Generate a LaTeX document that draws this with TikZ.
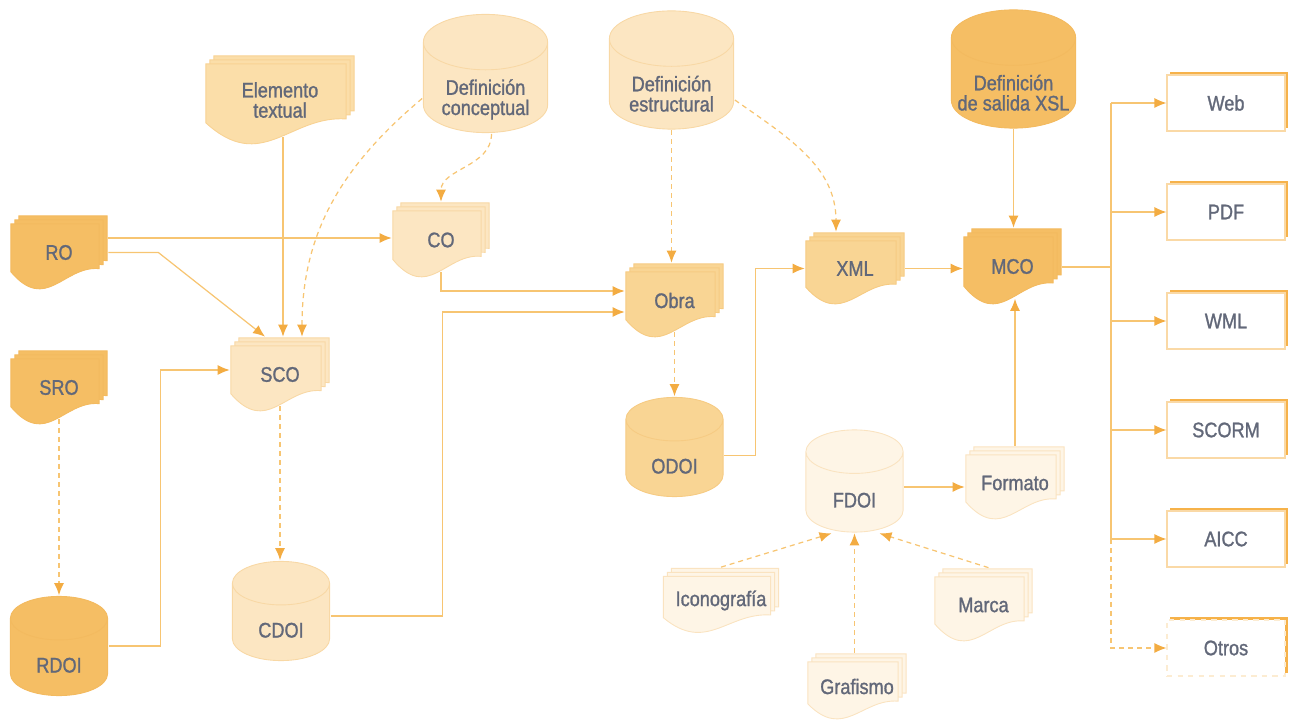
\documentclass[tikz,border=0pt]{standalone}
\usepackage{fontspec}
\setmainfont{Liberation Sans}[FakeStretch=0.86, FakeBold=1.2]
\usetikzlibrary{positioning,calc,arrows.meta,shadows}

\definecolor{ink}{HTML}{626879}
\definecolor{wire}{HTML}{F7C572}
\definecolor{tipc}{HTML}{F3AC42}
\definecolor{dark}{HTML}{F5BE64}
\definecolor{mid}{HTML}{F9D594}
\definecolor{soft}{HTML}{FBDEA9}
\definecolor{light}{HTML}{FCE6C2}
\definecolor{pale}{HTML}{FEF5E6}
\definecolor{rim}{HTML}{EDAE50}
\definecolor{boxline}{HTML}{FAD9A6}
\definecolor{boxedge}{HTML}{F6B24A}

\begin{document}
\begin{tikzpicture}[>={Latex[length=0.24cm,width=0.2cm,color=tipc]}, node distance=2.18cm,
  every node/.style={font=\fontsize{12}{11.5}\selectfont, text=ink, align=center},
  conn/.style={->, draw=wire, line width=0.7pt},
  dconn/.style={conn, dash pattern=on 1mm off 0.8mm},
  wire line/.style={draw=wire, line width=0.7pt},
  docs/.style={minimum width=1.96cm, minimum height=1.5cm, inner sep=0pt,
    path picture={
      \foreach \k in {2,1,0}
        \draw[fill=#1, draw=#1!75!rim, line width=0.5pt]
          let \p1=(path picture bounding box.south west), \p2=(path picture bounding box.north east),
              \n1={\x2-\x1-0.16cm-1pt}, \n2={0.98*(\y2-\y1-0.16cm-1pt)},
              \n3={\x1+0.5pt+\k*0.08cm}, \n4={\y1+0.5pt+\k*0.08cm+0.02*\n2}
          in (\n3,\n4+\n2) -- (\n3+\n1,\n4+\n2) -- (\n3+\n1,\n4+0.3*\n2)
             .. controls (\n3+0.6*\n1,\n4+0.35*\n2) and (\n3+0.4*\n1,\n4-0.4*\n2) .. (\n3,\n4+0.25*\n2)
             -- cycle;
    }},
  db/.style={minimum width=1.98cm, minimum height=2.02cm, inner sep=0pt, text height=1.06cm, text depth=0pt,
    path picture={
      \draw[fill=#1, draw=#1!75!rim, line width=0.5pt]
        let \p1=(path picture bounding box.south west), \p2=(path picture bounding box.north east),
            \n1={(\x2-\x1)/2-0.5pt}, \n2={0.22*(\x2-\x1)}
        in (\x1+0.5pt,\y2-\n2-0.5pt) -- (\x1+0.5pt,\y1+\n2+0.5pt)
           arc[start angle=180, end angle=360, x radius=\n1, y radius=\n2]
           -- (\x2-0.5pt,\y2-\n2-0.5pt)
           arc[start angle=0, end angle=180, x radius=\n1, y radius=\n2] -- cycle
           (\x1+0.5pt,\y2-\n2-0.5pt)
           arc[start angle=180, end angle=360, x radius=\n1, y radius=\n2];
    }},
  big db/.style={db=#1, minimum width=2.52cm, minimum height=2.4cm, text height=1.66cm},
  outbox/.style={draw=boxline, fill=white, line width=0.6pt, minimum width=2.36cm, minimum height=1.12cm,
    general shadow={fill=boxedge, shadow xshift=0.06cm, shadow yshift=0.06cm}}]

  \useasboundingbox (0,0) rectangle (25.8,-14.5);

  % objects
  \node[docs=dark] (ro) at (1.18,-5.05) {RO};
  \node[docs=dark] (sro) at (1.18,-7.75) {SRO};
  \node[docs=soft, minimum width=3.0cm, minimum height=1.8cm] (elem) at (5.6,-2.0) {Elemento\\textual};
  \node[docs=light, minimum height=1.52cm] (co) at (8.82,-4.8) {CO};
  \node[docs=light, minimum width=2.0cm] (sco) at (5.6,-7.49) {SCO};
  \node[docs=mid, minimum width=1.98cm] (obra) at (13.49,-6.01) {Obra};
  \node[docs=mid, minimum width=2.0cm, minimum height=1.46cm] (xml) at (17.1,-5.37) {XML};
  \node[docs=dark, minimum width=1.98cm, minimum height=1.54cm] (mco) at (20.25,-5.33) {MCO};
  \node[docs=pale, minimum width=2.0cm, minimum height=1.48cm] (formato) at (20.3,-9.66) {Formato};
  \node[docs=pale, minimum width=2.34cm, minimum height=1.32cm] (icono) at (14.42,-12.01) {Iconografía};
  \node[docs=pale, minimum width=1.98cm, minimum height=1.48cm] (marca) at (19.67,-12.1) {Marca};
  \node[docs=pale, minimum width=2.0cm, minimum height=1.34cm] (grafismo) at (17.14,-13.73) {Grafismo};

  % databases
  \node[big db=light] (defcon) at (9.71,-1.47) {Definición\\conceptual};
  \node[big db=light] (defest) at (13.43,-1.40) {Definición\\estructural};
  \node[big db=dark] (defxsl) at (20.27,-1.38) {Definición\\de salida XSL};
  \node[db=mid] (odoi) at (13.49,-8.94) {ODOI};
  \node[db=pale, minimum height=2.08cm] (fdoi) at (17.09,-9.62) {FDOI};
  \node[db=dark] (rdoi) at (1.18,-12.92) {RDOI};
  \node[db=light] (cdoi) at (5.62,-12.22) {CDOI};

  % outputs
  \node[outbox] (web) at (24.52,-2.06) {Web};
  \node[outbox, below of = web] (pdf) {PDF};
  \node[outbox, below of = pdf] (wml) {WML};
  \node[outbox, below of = wml] (scorm) {SCORM};
  \node[outbox, below of = scorm] (aicc) {AICC};
  \node[outbox, draw=boxline!50, dashed, below of = aicc] (otros) {Otros};

  \coordinate (bus) at (22.22,-5.34);

  % solid flow
  \draw[conn] ($(ro.east |- co.west)+(0,0.04)$) -- ([yshift=0.04cm]co.west);
  \draw[conn] (ro.east) -- ++(1.0,0) -- ([xshift=-0.3cm]sco.north);
  \draw[conn] ([xshift=0.06cm,yshift=0.16cm]elem.south) -- ([xshift=0.06cm]sco.north);
  \draw[conn] ([yshift=0.13cm]co.south) |- ([yshift=0.19cm]obra.west);
  \draw[conn] ([yshift=-0.1cm]cdoi.east) -- ++(2.24,0) |- ([yshift=-0.23cm]obra.west);
  \draw[conn] ([yshift=-0.17cm]odoi.east) -- ++(0.62,0) |- (xml.west);
  \draw[conn] (xml.east) -- (xml.east -| mco.west);
  \draw[conn] (defxsl.south) -- (defxsl.south |- mco.north);
  \draw[conn] (formato.north) -- ($(formato.north |- mco.south)+(0,0.13)$);
  \draw[conn] ($(fdoi.east)+(0,-0.12)$) -- ($(fdoi.east -| formato.west)+(0,-0.12)$);
  \draw[conn] (rdoi.east) -- ++(1.04,0) |- ([yshift=0.09cm]sco.west);

  % dashed flow
  \draw[dconn] ([yshift=-0.5cm]defcon.west) to[out=220, in=90] ([xshift=0.44cm]sco.north);
  \draw[dconn] ([xshift=0.12cm]defcon.south) to[out=-90, in=90] (co.north);
  \draw[dconn] (defest.south) -- (defest.south |- obra.north);
  \draw[dconn] ([yshift=-0.6cm]defest.east) to[out=-35, in=90] ([xshift=-0.38cm]xml.north);
  \draw[dconn] ([yshift=0.13cm]obra.south) -- (obra.south |- odoi.north);
  \draw[dconn] ([yshift=0.13cm]sro.south) -- (sro.south |- rdoi.north);
  \draw[dconn] ([yshift=0.13cm]sco.south) -- (sco.south |- cdoi.north);
  \draw[dconn] (icono.north) -- ([xshift=-0.46cm]fdoi.south);
  \draw[dconn] (fdoi.south |- grafismo.north) -- (fdoi.south);
  \draw[dconn] ([xshift=0.1cm]marca.north) -- ([xshift=0.5cm]fdoi.south);

  % publishing
  \draw[wire line] (mco.east |- bus) -- (bus);
  \draw[wire line] (bus |- web.west) -- (bus |- aicc.west);
  \foreach \out in {web,pdf,wml,scorm,aicc}
    \draw[conn] (bus |- \out.west) -- (\out.west);
  \draw[dconn] (bus |- aicc.west) |- (otros.west);
\end{tikzpicture}
\end{document}
